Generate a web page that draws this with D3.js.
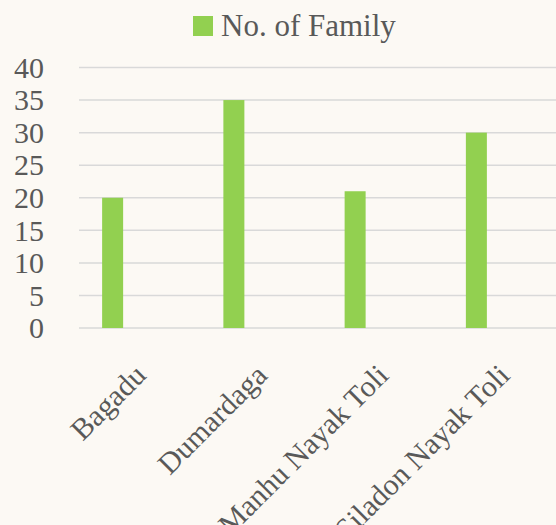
<!DOCTYPE html>
<html>
<head>
<meta charset="utf-8">
<script src="https://cdn.jsdelivr.net/npm/d3@7"></script>
<style>
  html, body { margin: 0; padding: 0; background: #fcf9f4; }
  svg { display: block; }
  text { font-family: "Liberation Serif", "DejaVu Serif", serif; fill: #595959; }
</style>
</head>
<body>
<script>
var villages = ["Bagadu", "Dumardaga", "Manhu Nayak Toli", "Siladon Nayak Toli"];
var families = [20, 35, 21, 30];
var yTicks = [0, 5, 10, 15, 20, 25, 30, 35, 40];
var seriesName = "No. of Family";

var width = 556, height = 525;
var barColor = "#92d050";

var svg = d3.select("body").append("svg")
    .attr("width", width)
    .attr("height", height);

svg.append("rect")
    .attr("width", width)
    .attr("height", height)
    .attr("fill", "#fcf9f4");

var x = d3.scaleBand()
    .domain(villages)
    .range([52, 537]);

var y = d3.scaleLinear()
    .domain([0, 40])
    .range([328, 67.5]);

// gridlines
svg.append("g")
    .selectAll("line")
    .data(yTicks)
    .enter().append("line")
    .attr("x1", 79)
    .attr("x2", width)
    .attr("y1", function (d) { return y(d); })
    .attr("y2", function (d) { return y(d); })
    .attr("stroke", "#d9d9d9")
    .attr("stroke-width", 1.5);

// y labels
svg.append("g")
    .selectAll("text")
    .data(yTicks)
    .enter().append("text")
    .attr("x", 44)
    .attr("y", function (d) { return y(d); })
    .attr("dy", "0.34em")
    .attr("text-anchor", "end")
    .style("font-size", "30px")
    .text(function (d) { return d; });

// bars
var barW = 21;
svg.append("g")
    .selectAll("rect")
    .data(villages)
    .enter().append("rect")
    .attr("x", function (d) { return x(d) + x.bandwidth() / 2 - barW / 2; })
    .attr("y", function (d, i) { return y(families[i]); })
    .attr("width", barW)
    .attr("height", function (d, i) { return y(0) - y(families[i]); })
    .attr("fill", barColor);

// x labels
svg.append("g")
    .selectAll("text")
    .data(villages)
    .enter().append("text")
    .attr("text-anchor", "end")
    .attr("transform", function (d) {
        var cx = x(d) + x.bandwidth() / 2;
        return "translate(" + (cx + 35) + ",377) rotate(-45)";
    })
    .style("font-size", "30px")
    .text(function (d) { return d; });

// legend
var legend = svg.append("g");
legend.append("rect")
    .attr("x", 193)
    .attr("y", 16)
    .attr("width", 20)
    .attr("height", 20)
    .attr("fill", barColor);
legend.append("text")
    .attr("x", 221)
    .attr("y", 36)
    .style("font-size", "31px")
    .text(seriesName);
</script>
</body>
</html>
